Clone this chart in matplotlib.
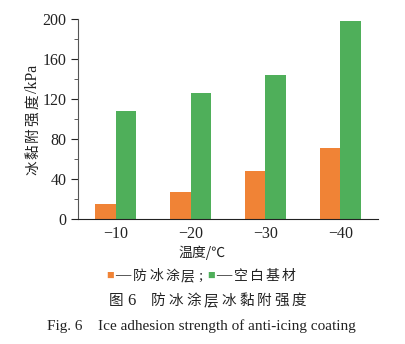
import numpy as np
import matplotlib.pyplot as plt
from matplotlib.ticker import MultipleLocator

plt.rcParams['font.family'] = ['Liberation Serif', 'Noto Sans CJK SC', 'DejaVu Sans']

# data
temps = ['\u221210', '\u221220', '\u221230', '\u221240']
coated = [15, 27, 48, 71]      # 防冰涂层
blank = [108, 126, 144, 198]   # 空白基材

c_orange = '#F08336'
c_green = '#4FAF5A'
ink = '#222222'
cjk = ['Noto Sans CJK SC', 'DejaVu Sans']
W, H = 405, 344


# put characters one by one with a fixed pitch (pixels), to mimic the loose CJK spacing
def spaced(fig, x0, y, s, pitch, size, color=ink):
    for i, ch in enumerate(s):
        fig.text((x0 + i * pitch) / W, 1 - y / H, ch, family=cjk, fontsize=size,
                 color=color, ha='left', va='center')


fig = plt.figure(figsize=(4.05, 3.44), dpi=100)
ax = fig.add_axes([0.193, 0.363, 0.74, 0.582])

x = np.arange(len(temps))
w = 0.27
ax.bar(x - w / 2, coated, w, color=c_orange)
ax.bar(x + w / 2, blank, w, color=c_green)

ax.set_xlim(-0.5, 3.5)
ax.set_ylim(0, 200)
ax.set_xticks(x)
ax.set_xticklabels(temps)
ax.yaxis.set_major_locator(MultipleLocator(40))
ax.yaxis.set_minor_locator(MultipleLocator(20))
ax.tick_params(axis='x', length=0, labelsize=11.5, pad=5, colors=ink)
ax.tick_params(axis='y', which='major', length=5, labelsize=11.5, colors=ink)
ax.tick_params(axis='y', which='minor', length=3, colors='#444444')
for s in ['top', 'right']:
    ax.spines[s].set_visible(False)
ax.spines['left'].set_color('#555555')
ax.spines['bottom'].set_color(ink)

# y label, spaced vertically from the bottom up
ylab = '冰黏附强度'
for i, ch in enumerate(ylab):
    fig.text(33 / W, 1 - (168 - i * 16.5) / H, ch, family=cjk, fontsize=10.5,
             color=ink, rotation=90, ha='center', va='center')
fig.text(33 / W, 1 - 79 / H, '/kPa', fontsize=11.5, color=ink, rotation=90,
         ha='center', va='center')

fig.text(202 / W, 1 - 253 / H, '温度/℃', family=cjk, fontsize=10, ha='center', va='center', color=ink)

# legend line under the axis
fig.text(106 / W, 1 - 276 / H, '■', family=cjk, fontsize=5.5, color=c_orange, ha='left', va='center')
fig.text(115 / W, 1 - 276 / H, '\u2014', fontsize=11, color=ink, ha='left', va='center')
spaced(fig, 133, 276, '防冰涂层', 16, 10)
fig.text(198 / W, 1 - 276 / H, ';', fontsize=11, color=ink, ha='left', va='center')
fig.text(207 / W, 1 - 276 / H, '■', family=cjk, fontsize=5.5, color=c_green, ha='left', va='center')
fig.text(216 / W, 1 - 276 / H, '\u2014', fontsize=11, color=ink, ha='left', va='center')
spaced(fig, 234, 276, '空白基材', 16, 10)

# caption
spaced(fig, 109, 301, '图', 16, 10.5)
fig.text(127 / W, 1 - 301 / H, '6', fontsize=12, color=ink, ha='left', va='center')
spaced(fig, 151, 301, '防冰涂层冰黏附强度', 17.6, 10.5)
fig.text(201 / W, 1 - 326 / H, 'Fig. 6    Ice adhesion strength of anti\u2010icing coating',
         fontsize=11, ha='center', va='center', color=ink)

fig.savefig('out.png', dpi=100)
